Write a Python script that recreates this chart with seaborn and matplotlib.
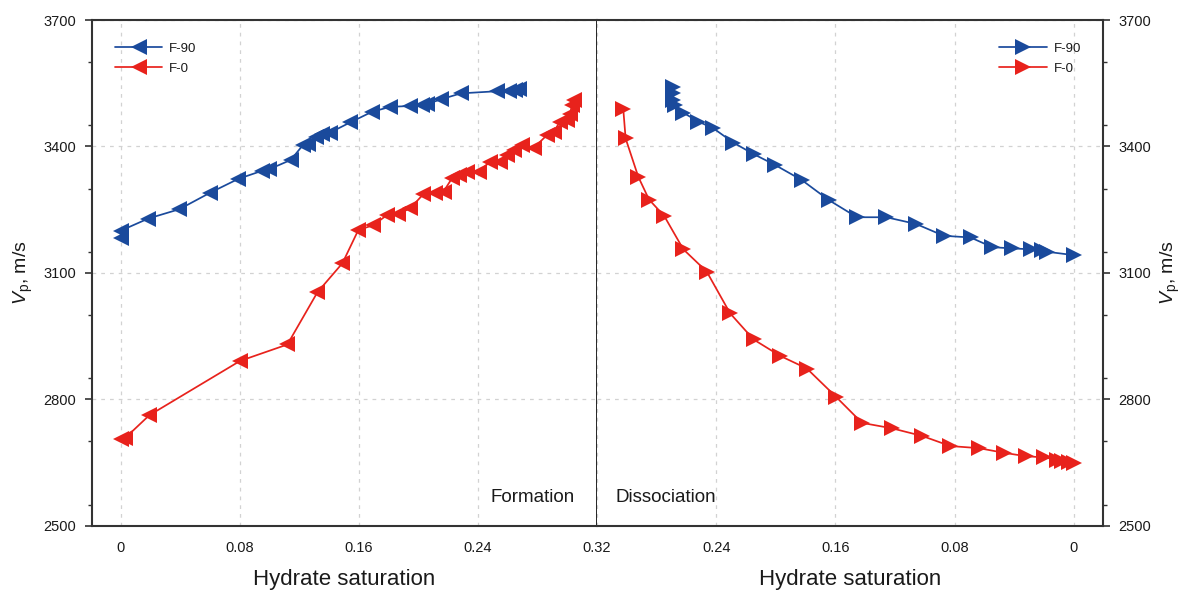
import numpy as np
import pandas as pd
import matplotlib
matplotlib.use("Agg")
import matplotlib.pyplot as plt
from matplotlib.ticker import MultipleLocator, FixedLocator
import seaborn as sns

# ---- Formation (saturation increasing) ----
form_f90_s = [0.0, 0.0, 0.0186, 0.0394, 0.060, 0.079, 0.0948, 0.0999, 0.1143, 0.1224,
              0.1261, 0.1313, 0.1351, 0.1407, 0.1542, 0.1687, 0.181, 0.1945, 0.2024,
              0.2061, 0.2153, 0.2286, 0.2527, 0.2606, 0.2651, 0.2673]
form_f90_v = [3182, 3200, 3229, 3251, 3290, 3323, 3342, 3346, 3368, 3403,
              3407, 3423, 3429, 3433, 3457, 3482, 3494, 3496, 3498,
              3501, 3512, 3526, 3531, 3531, 3534, 3536]

form_f0_s = [0.0, 0.003, 0.0192, 0.0802, 0.112, 0.1322, 0.149, 0.1597, 0.1698, 0.1788,
             0.1866, 0.1945, 0.2034, 0.2113, 0.2169, 0.2225, 0.227, 0.2326, 0.2404,
             0.2483, 0.255, 0.2595, 0.264, 0.2696, 0.2774, 0.2864, 0.2908, 0.2953,
             0.2998, 0.302, 0.3031, 0.3043]
form_f0_v = [2705, 2708, 2762, 2891, 2930, 3054, 3123, 3202, 3213, 3237,
             3240, 3253, 3287, 3289, 3293, 3324, 3332, 3340, 3340,
             3364, 3364, 3380, 3391, 3403, 3396, 3427, 3435, 3459,
             3463, 3478, 3498, 3510]

# ---- Dissociation (saturation decreasing) ----
diss_f90_s = [0.2688, 0.2688, 0.2688, 0.2677, 0.2621, 0.252, 0.2419, 0.2285, 0.215,
              0.2005, 0.1825, 0.1646, 0.1456, 0.1259, 0.1059, 0.0874, 0.0694, 0.0548,
              0.0414, 0.0291, 0.0212, 0.0179, 0.0]
diss_f90_v = [3542, 3526, 3510, 3498, 3480, 3459, 3443, 3409, 3382,
              3356, 3320, 3273, 3232, 3232, 3216, 3188, 3184, 3161,
              3158, 3156, 3154, 3150, 3142]

diss_f0_s = [0.3024, 0.3008, 0.2923, 0.2851, 0.2749, 0.2621, 0.2464, 0.2307, 0.215,
             0.1971, 0.1792, 0.1597, 0.1422, 0.122, 0.1019, 0.0829, 0.0638, 0.047,
             0.0325, 0.0202, 0.0112, 0.0078, 0.0034, 0.0]
diss_f0_v = [3490, 3419, 3328, 3274, 3235, 3156, 3103, 3004, 2942,
             2903, 2873, 2806, 2744, 2731, 2713, 2689, 2684, 2673,
             2665, 2662, 2657, 2654, 2652, 2648]

series_names = ["F-90", "F-0"]
x_ticks = [0, 0.08, 0.16, 0.24, 0.32]
x_tick_labels = ["0", "0.08", "0.16", "0.24", "0.32"]
y_ticks = [2500, 2800, 3100, 3400, 3700]

BLUE = "#1a4a9c"
RED = "#e8221c"
SPINE = "#333333"
TEXT = "#1a1a1a"

sns.set_theme(style="white")
plt.rcParams["font.family"] = ["Liberation Sans", "DejaVu Sans"]
plt.rcParams["mathtext.fontset"] = "custom"
plt.rcParams["mathtext.it"] = "Liberation Sans:italic"
plt.rcParams["mathtext.rm"] = "Liberation Sans"

fig = plt.figure(figsize=(11.81, 5.91), dpi=100)
ax1 = fig.add_axes([0.0776, 0.1105, 0.4279, 0.8556])
ax2 = fig.add_axes([0.5055, 0.1105, 0.4285, 0.8556])

line_kw = dict(sort=False, estimator=None, linewidth=1.25, markersize=12,
               markeredgewidth=0)

sns.lineplot(x=form_f90_s, y=form_f90_v, ax=ax1, color=BLUE, marker="<",
             label=series_names[0], **line_kw)
sns.lineplot(x=form_f0_s, y=form_f0_v, ax=ax1, color=RED, marker="<",
             label=series_names[1], **line_kw)
sns.lineplot(x=diss_f90_s, y=diss_f90_v, ax=ax2, color=BLUE, marker=">",
             label=series_names[0], **line_kw)
sns.lineplot(x=diss_f0_s, y=diss_f0_v, ax=ax2, color=RED, marker=">",
             label=series_names[1], **line_kw)

ylabel = r"$V_\mathrm{p}$, m/s"

for ax in (ax1, ax2):
    ax.set_ylim(2500, 3700)
    ax.yaxis.set_major_locator(FixedLocator(y_ticks))
    ax.yaxis.set_minor_locator(MultipleLocator(150))
    ax.xaxis.set_major_locator(FixedLocator(x_ticks))
    ax.xaxis.set_minor_locator(MultipleLocator(0.04))
    ax.grid(True, which="major", color="#d2d2d2", linestyle=(0, (3, 4)), linewidth=0.9)
    ax.tick_params(which="major", direction="out", length=5, width=1.2,
                   color=SPINE, labelsize=10.5, labelcolor=TEXT, pad=6)
    ax.tick_params(which="minor", direction="out", length=3, width=1.0, color=SPINE)
    for s in ax.spines.values():
        s.set_color(SPINE)
        s.set_linewidth(1.5)
    ax.set_xlabel("Hydrate saturation", fontsize=16, color=TEXT)
    ax.xaxis.set_label_coords(0.5, -0.086)
    ax.set_ylabel(ylabel, fontsize=14, color=TEXT)

ax1.set_xticklabels(x_tick_labels)
# the shared 0.32 boundary is labelled once, by the left panel
ax2.set_xticklabels(x_tick_labels[:-1] + [""])

ax1.set_xlim(-0.0195, 0.32)
ax2.set_xlim(0.32, -0.0195)

# Left panel: y axis on the left, shared divider on the right
ax1.spines["right"].set_color("black")
ax1.spines["right"].set_linewidth(1.2)
ax1.tick_params(axis="y", which="both", left=True, right=False,
                labelleft=True, labelright=False)
ax1.yaxis.set_label_coords(-0.113, 0.5)

# Right panel: y axis on the right
ax2.spines["left"].set_visible(False)
ax2.yaxis.tick_right()
ax2.yaxis.set_label_position("right")
ax2.tick_params(axis="y", which="both", left=False, right=True,
                labelleft=False, labelright=True)
ax2.yaxis.set_label_coords(1.11, 0.5)

leg_kw = dict(frameon=False, fontsize=9.5, handlelength=3.6, handletextpad=0.5,
              labelspacing=0.6, borderpad=0, borderaxespad=0, numpoints=1)
leg1 = ax1.legend(loc="upper left", bbox_to_anchor=(0.046, 0.956), **leg_kw)
leg2 = ax2.legend(loc="upper right", bbox_to_anchor=(0.956, 0.956), **leg_kw)
for leg in (leg1, leg2):
    for t in leg.get_texts():
        t.set_color(TEXT)

ax1.text(0.956, 0.055, "Formation", transform=ax1.transAxes, ha="right",
         va="center", fontsize=13.5, color=TEXT)
ax2.text(0.0375, 0.055, "Dissociation", transform=ax2.transAxes, ha="left",
         va="center", fontsize=13.5, color=TEXT)

fig.savefig("out.png", dpi=100)
